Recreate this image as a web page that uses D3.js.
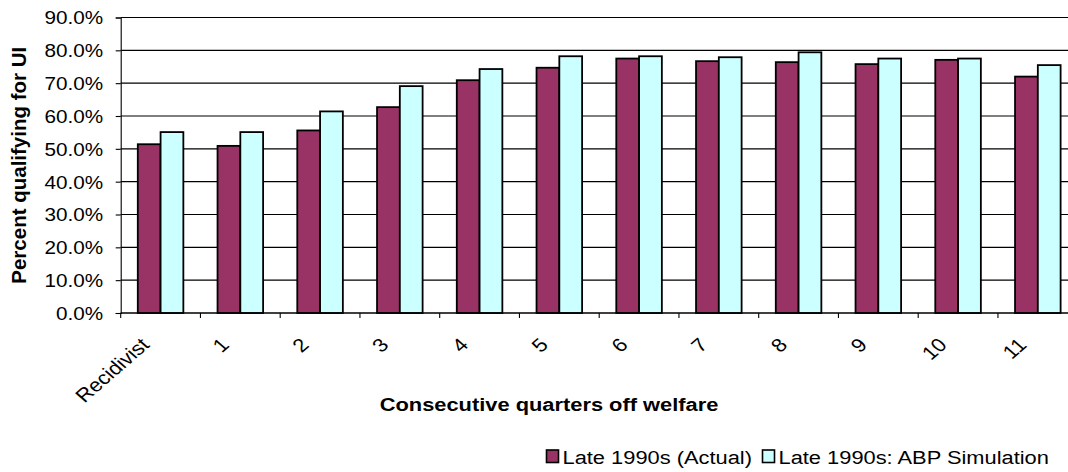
<!DOCTYPE html>
<html>
<head>
<meta charset="utf-8">
<script src="https://cdn.jsdelivr.net/npm/d3@7"></script>
<style>
  html, body { margin: 0; padding: 0; background: #fff; }
  svg { display: block; font-family: "Liberation Sans", Arial, sans-serif; }
</style>
</head>
<body>
<svg id="chart" width="1068" height="472"></svg>
<script>
// Share of leavers qualifying for UI, by consecutive quarters off welfare
const categories = ["Recidivist", "1", "2", "3", "4", "5", "6", "7", "8", "9", "10", "11"];
const seriesNames = ["Late 1990s (Actual)", "Late 1990s: ABP Simulation"];
const actual = [51.4, 50.9, 55.6, 62.7, 70.9, 74.7, 77.5, 76.7, 76.4, 75.8, 77.1, 72.0];
const simulation = [55.1, 55.1, 61.4, 69.1, 74.3, 78.2, 78.2, 77.9, 79.4, 77.5, 77.5, 75.5];
const yTickValues = [0, 10, 20, 30, 40, 50, 60, 70, 80, 90];
const seriesColors = ["#993366", "#CCFFFF"];

const SX = 1.15; // horizontal text stretch

const svg = d3.select("#chart");

const plotLeft = 120.7, plotTop = 17.5, plotBottom = 313;
const step = 79.75;
const plotRight = plotLeft + step * categories.length;

const y = d3.scaleLinear().domain([0, 90]).range([plotBottom, plotTop]);
const x0 = d3.scaleBand().domain(categories).range([plotLeft, plotRight])
  .paddingInner(1.5 / 3.5).paddingOuter(0.75 / 3.5);
const x1 = d3.scaleBand().domain(seriesNames).range([0, x0.bandwidth()]);

// Horizontal gridlines
svg.append("g").selectAll("line").data(yTickValues).join("line")
  .attr("x1", plotLeft).attr("x2", plotRight)
  .attr("y1", d => y(d)).attr("y2", d => y(d))
  .attr("stroke", "#000").attr("stroke-width", 1.1);

// Bars
const rows = categories.map((c, i) => ({ cat: c, vals: [actual[i], simulation[i]] }));
const groups = svg.append("g").selectAll("g").data(rows).join("g")
  .attr("transform", d => `translate(${x0(d.cat)},0)`);
groups.selectAll("rect").data(d => d.vals.map((v, j) => ({ v, name: seriesNames[j], j })))
  .join("rect")
  .attr("x", d => x1(d.name))
  .attr("width", x1.bandwidth())
  .attr("y", d => y(d.v))
  .attr("height", d => y(0) - y(d.v))
  .attr("fill", d => seriesColors[d.j])
  .attr("stroke", "#000").attr("stroke-width", 1.8);

// Y axis
const yAxis = d3.axisLeft(y).tickValues(yTickValues).tickSize(5).tickFormat("");
const yg = svg.append("g").attr("transform", `translate(${plotLeft},0)`).call(yAxis);
yg.select(".domain").attr("stroke", "#000").attr("stroke-width", 1.1);
yg.selectAll(".tick line").attr("stroke", "#000").attr("stroke-width", 1.1);
yg.selectAll(".tick").append("g")
  .attr("transform", `translate(-17.5,0) scale(${SX},1)`)
  .append("text")
  .attr("text-anchor", "end").attr("dy", "0.36em")
  .attr("font-size", 18).attr("fill", "#000")
  .text(d => d.toFixed(1) + "%");

// X axis: ticks at category boundaries
const boundaries = d3.range(categories.length + 1).map(i => plotLeft + i * x0.step());
svg.append("line")
  .attr("x1", plotLeft).attr("x2", plotRight)
  .attr("y1", y(0)).attr("y2", y(0))
  .attr("stroke", "#000").attr("stroke-width", 1.1);
svg.append("g").selectAll("line").data(boundaries).join("line")
  .attr("x1", d => d).attr("x2", d => d)
  .attr("y1", y(0)).attr("y2", y(0) + 5)
  .attr("stroke", "#000").attr("stroke-width", 1.1);

// Rotated category labels
svg.append("g").selectAll("text").data(categories).join("text")
  .attr("transform", d => `translate(${x0(d) + x0.bandwidth() / 2 - 10},346) scale(${SX},1) rotate(-45)`)
  .attr("text-anchor", "end")
  .attr("font-size", 19).attr("fill", "#000")
  .text(d => d);

// Axis titles
svg.append("g").attr("transform", `translate(549,411) scale(${SX},1)`)
  .append("text")
  .attr("text-anchor", "middle").attr("font-size", 19).attr("font-weight", "bold")
  .text("Consecutive quarters off welfare");

svg.append("text")
  .attr("transform", `translate(26,${(plotTop + plotBottom) / 2}) rotate(-90)`)
  .attr("text-anchor", "middle").attr("font-size", 20.5).attr("font-weight", "bold")
  .text("Percent qualifying for UI");

// Legend
const legendItems = [
  { name: seriesNames[0], color: seriesColors[0], x: 546 },
  { name: seriesNames[1], color: seriesColors[1], x: 762 }
];
const lg = svg.append("g").selectAll("g").data(legendItems).join("g")
  .attr("transform", d => `translate(${d.x},0)`);
lg.append("rect")
  .attr("x", 0.5).attr("y", 450).attr("width", 12).attr("height", 12.5)
  .attr("fill", d => d.color).attr("stroke", "#000").attr("stroke-width", 1.6);
lg.append("g").attr("transform", `translate(16.5,464) scale(${SX},1)`)
  .append("text").attr("font-size", 19).attr("fill", "#000")
  .text(d => d.name);
</script>
</body>
</html>
